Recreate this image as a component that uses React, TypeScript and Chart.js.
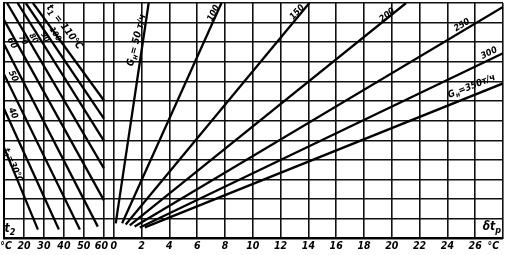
import React, { useEffect, useRef } from 'react';
import { Chart, registerables } from 'chart.js';

Chart.register(...registerables);

// ---------- data ----------
// left block: return temperature t2 (°C) ticks
const t2Ticks = [20, 30, 40, 50, 60];
// right block: δt_p (°C) ticks
const dtTicks = [0, 2, 4, 6, 8, 10, 12, 14, 16, 18, 20, 22, 24, 26];
// vertical (unlabelled) grid values
const yGridValues = [0, 1, 2, 3, 4, 5, 6, 7, 8, 9, 10, 11, 12];

// left family: supply temperature t1 lines (start/end in t2 °C and y grid units)
const t1Values = [110, 100, 90, 80, 70, 60, 50, 40, 30];
const t1StartT2 = [24.5, 20.9, 16.8, 11.5, 10, 10, 10, 10, 10];
const t1StartY = [12, 12, 12, 12, 11.14, 9.9, 8.37, 6.61, 4.63];
const t1EndT2 = [60, 60, 60, 60, 60, 57, 48, 37.5, 27];
const t1EndY = [7.04, 6.12, 4.98, 3.58, 1.95, 0.6, 0.45, 0.45, 0.45];

// right family: flow G_н lines (start/end in δt_p °C and y grid units)
const gValues = [50, 100, 150, 200, 250, 300, 350];
const gStartDt = [0.14, 0.6, 0.86, 1.15, 1.5, 1.87, 2.23];
const gStartY = [0.77, 0.77, 0.71, 0.66, 0.61, 0.56, 0.56];
const gEndDt = [2.51, 7.75, 14.07, 21.03, 28, 28, 28];
const gEndY = [12, 12, 12, 12, 11.8, 9.44, 7.9];

// ---------- combined x axis mapping ----------
const T2_MIN = 10;
const T2_SCALE = 2;
const DT_OFFSET = 110;
const DT_SCALE = 13.928;
const U_MAX = 500;
const uT2 = (t2: number) => (t2 - T2_MIN) * T2_SCALE;
const uDt = (dt: number) => DT_OFFSET + dt * DT_SCALE;

type TickDef = { u: number; label: string };
const tickDefs: TickDef[] = [
  { u: 0, label: '' },
  ...t2Ticks.map((t) => ({ u: uT2(t), label: t === 60 ? '60\u2002' : String(t) })),
  ...dtTicks.map((t) => ({ u: uDt(t), label: String(t) })),
  { u: U_MAX, label: '' },
];

type Part = [string, number];
type Label = { parts: Part[]; side: 'L' | 'R'; xv: number; y: number; rot: number; size: number };

const FONT_FAMILY = "'DejaVu Sans Condensed', 'Liberation Sans Narrow', 'Liberation Sans', sans-serif";
const TICK_SIZE = 10.5;
const TICK_PAD = 2;

const labels: Label[] = [
  { parts: [['t', 0], ['1', 1], [' = 110°C', 0]], side: 'L', xv: 40.2, y: 10.77, rot: 53, size: 10 },
  { parts: [['100', 0]], side: 'L', xv: 35.6, y: 10.4, rot: 58, size: 8 },
  { parts: [['90', 0]], side: 'L', xv: 30.6, y: 10.26, rot: 58, size: 8 },
  { parts: [['80', 0]], side: 'L', xv: 24.8, y: 10.2, rot: 58, size: 8 },
  { parts: [['70', 0]], side: 'L', xv: 19.5, y: 10.1, rot: 58, size: 8 },
  { parts: [['60', 0]], side: 'L', xv: 14.0, y: 9.95, rot: 63, size: 9 },
  { parts: [['50', 0]], side: 'L', xv: 14.5, y: 8.27, rot: 64, size: 9 },
  { parts: [['40', 0]], side: 'L', xv: 14.5, y: 6.38, rot: 65, size: 9 },
  { parts: [['t', 0], ['1', 1], ['=30°C', 0]], side: 'L', xv: 14.5, y: 3.72, rot: 66, size: 9 },
  { parts: [['G', 0], ['н', 1], ['= 50 т/ч', 0]], side: 'R', xv: 1.65, y: 10.1, rot: -76, size: 10 },
  { parts: [['100', 0]], side: 'R', xv: 7.18, y: 11.48, rot: -64, size: 9 },
  { parts: [['150', 0]], side: 'R', xv: 13.2, y: 11.53, rot: -48, size: 9 },
  { parts: [['200', 0]], side: 'R', xv: 19.67, y: 11.38, rot: -38, size: 9 },
  { parts: [['250', 0]], side: 'R', xv: 25.05, y: 10.87, rot: -31, size: 9 },
  { parts: [['300', 0]], side: 'R', xv: 27.0, y: 9.44, rot: -26, size: 9 },
  { parts: [['G', 0], ['н', 1], ['=350т/ч', 0]], side: 'R', xv: 25.75, y: 7.75, rot: -22, size: 9.5 },
  { parts: [['t', 0], ['2', 1]], side: 'L', xv: 13.0, y: 0.5, rot: 0, size: 12 },
  { parts: [['δt', 0], ['р', 1]], side: 'R', xv: 27.2, y: 0.6, rot: 0, size: 12 },
];

function drawParts(ctx: CanvasRenderingContext2D, parts: Part[], size: number) {
  const mainFont = `italic bold ${size}px ${FONT_FAMILY}`;
  const subSize = Math.round(size * 0.75);
  const subFont = `italic bold ${subSize}px ${FONT_FAMILY}`;
  let total = 0;
  const widths = parts.map(([txt, sub]) => {
    ctx.font = sub ? subFont : mainFont;
    const w = ctx.measureText(txt).width;
    total += w;
    return w;
  });
  let x = -total / 2;
  parts.forEach(([txt, sub], i) => {
    ctx.font = sub ? subFont : mainFont;
    ctx.fillText(txt, x, sub ? size * 0.3 : 0);
    x += widths[i];
  });
}

const labelPlugin = {
  id: 'nomoLabels',
  afterDatasetsDraw(chart: any) {
    const { ctx, scales } = chart;
    const xs = scales.x;
    const ys = scales.y;
    ctx.save();
    ctx.fillStyle = '#000';
    ctx.textBaseline = 'middle';
    ctx.textAlign = 'left';
    labels.forEach((l) => {
      const u = l.side === 'L' ? uT2(l.xv) : uDt(l.xv);
      const px = xs.getPixelForValue(u);
      const py = ys.getPixelForValue(l.y);
      ctx.save();
      ctx.translate(px, py);
      ctx.rotate((l.rot * Math.PI) / 180);
      drawParts(ctx, l.parts, l.size);
      ctx.restore();
    });
    // unit labels at ends of x axis
    ctx.font = `italic bold ${TICK_SIZE}px ${FONT_FAMILY}`;
    ctx.textBaseline = 'middle';
    ctx.textAlign = 'center';
    const ty = xs.top + TICK_PAD + (TICK_SIZE * 1.2) / 2;
    ctx.fillText('°C', xs.getPixelForValue(uT2(11)), ty);
    ctx.fillText('°C', xs.getPixelForValue(uDt(27.3)), ty);
    ctx.restore();
  },
};

export default function App() {
  const ref = useRef<HTMLCanvasElement | null>(null);
  useEffect(() => {
    if (!ref.current) return;
    const datasets: any[] = [];
    t1Values.forEach((t1, i) => {
      datasets.push({
        label: `t1=${t1}`,
        data: [
          { x: uT2(t1StartT2[i]), y: t1StartY[i] },
          { x: uT2(t1EndT2[i]), y: t1EndY[i] },
        ],
        borderColor: '#000',
        borderWidth: 2.3,
        pointRadius: 0,
        showLine: true,
        fill: false,
      });
    });
    gValues.forEach((g, i) => {
      datasets.push({
        label: `G=${g}`,
        data: [
          { x: uDt(gStartDt[i]), y: gStartY[i] },
          { x: uDt(gEndDt[i]), y: gEndY[i] },
        ],
        borderColor: '#000',
        borderWidth: 2.3,
        pointRadius: 0,
        showLine: true,
        fill: false,
      });
    });
    const chart = new Chart(ref.current, {
      type: 'scatter',
      data: { datasets },
      options: {
        animation: false,
        responsive: false,
        layout: { padding: { left: 4, right: 4, top: 3, bottom: 0 } },
        plugins: { legend: { display: false }, tooltip: { enabled: false } },
        scales: {
          x: {
            type: 'linear',
            min: 0,
            max: U_MAX,
            afterBuildTicks: (axis: any) => {
              axis.ticks = tickDefs.map((t) => ({ value: t.u }));
            },
            ticks: {
              autoSkip: false,
              maxRotation: 0,
              padding: TICK_PAD,
              color: '#000',
              font: { family: FONT_FAMILY, size: TICK_SIZE, style: 'italic', weight: 'bold' },
              callback: (_v: any, i: number) => (tickDefs[i] ? tickDefs[i].label : ''),
            },
            grid: { color: '#111', lineWidth: 1.6, drawTicks: false },
            border: { color: '#000', width: 2 },
          },
          y: {
            type: 'linear',
            min: 0,
            max: 12,
            afterBuildTicks: (axis: any) => {
              axis.ticks = yGridValues.map((v) => ({ value: v }));
            },
            ticks: { display: false },
            grid: { color: '#111', lineWidth: 1.6, drawTicks: false },
            border: { color: '#000', width: 2 },
          },
        },
      },
      plugins: [labelPlugin],
    });
    return () => chart.destroy();
  }, []);
  return (
    <div style={{ position: 'fixed', left: 0, top: 0, width: 507, height: 255, background: '#fff' }}>
      <canvas ref={ref} width={507} height={255} style={{ display: 'block' }} />
    </div>
  );
}
